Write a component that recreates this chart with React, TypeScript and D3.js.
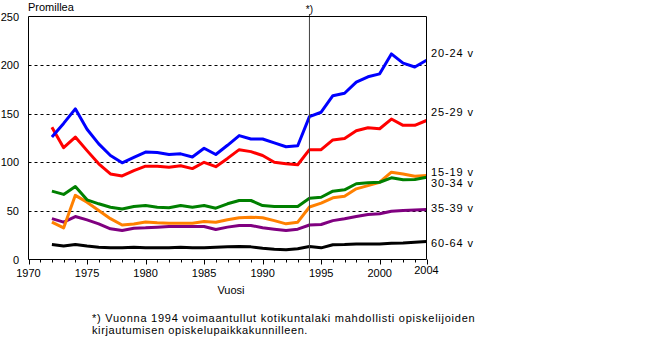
import React from "react";
import * as d3 from "d3";

const years = d3.range(1972, 2005);

const s2024 = [126, 140, 155, 134, 119, 107, 99.5, 105, 110.5, 110, 108, 108.7, 105.5, 114.5, 108, 117.5, 127.5, 124, 124, 120, 116, 117, 147, 151.5, 168.5, 171, 182.5, 188, 191, 211.5, 202, 198, 205];
const s2529 = [136, 115, 126, 112, 98.5, 88, 86, 91.5, 96, 96, 95, 96.5, 93.5, 100, 95.5, 104, 113, 111, 107, 100, 98.5, 97.5, 113, 113, 123, 124.5, 132.5, 135.5, 134.5, 144.5, 138, 138, 143];
const s1519 = [38.5, 32.5, 66, 59, 50.5, 42, 35.5, 36.5, 38.5, 37.7, 37.4, 37.4, 37.4, 39, 38.4, 40.8, 42.9, 43.5, 42.9, 40, 36.7, 38.4, 54, 58, 63.5, 65, 72.7, 76, 79.5, 89.8, 88, 85.7, 86.4];
const s3034 = [70.3, 67, 75, 61.4, 57.3, 53.8, 52, 54.5, 55.5, 53.8, 53.2, 55.5, 53.8, 55.5, 52.8, 57.3, 60.7, 60.7, 55.5, 54.5, 54.5, 54.5, 63, 64, 70.3, 71.7, 77.9, 78.9, 79.5, 84, 82, 82.3, 84.7];
const s3539 = [42, 38.4, 44.2, 40.8, 36.7, 31.6, 29.8, 32.2, 32.6, 33.3, 34, 34, 34, 34, 30.9, 33.3, 35, 35, 32.6, 31.2, 29.8, 31.2, 35.5, 36, 40, 41.9, 44.2, 46.3, 47, 49.7, 50.4, 51, 51.4];
const s6064 = [15.4, 13.8, 15.4, 13.8, 12.7, 12, 12, 12.5, 12, 12, 12, 12.5, 12, 12, 12.5, 13, 13.4, 13, 11.5, 10.5, 10, 11, 13.4, 12, 15.2, 15.4, 16, 16, 16, 16.8, 17, 17.7, 18.5];

const seriesNames = ["20-24 v", "25-29 v", "15-19 v", "30-34 v", "35-39 v", "60-64 v"];
const seriesData = [s2024, s2529, s1519, s3034, s3539, s6064];
const seriesColors = ["#0000ff", "#ff0000", "#ff8000", "#008000", "#800080", "#000000"];
const labelYOffsets = [53, 112, 172, 183, 208, 243];

const yTicks = [0, 50, 100, 150, 200, 250];
const gridTicks = [50, 100, 150, 200];
const xMajor = [1970, 1975, 1980, 1985, 1990, 1995, 2000, 2004];
const xMinor = d3.range(1970, 2005);

const FONT = "'Liberation Sans', Arial, sans-serif";

export default function App() {
  const W = 658, H = 361;
  const x0 = 28.5, x1 = 426.5, yTop = 16.5, yBot = 259.5;
  const x = d3.scaleLinear().domain([1970, 2004]).range([x0, x1]);
  const y = d3.scaleLinear().domain([0, 250]).range([yBot, yTop]);
  const line = d3.line<number>().x((_, i) => x(years[i])).y((d) => y(d));
  const order = [5, 4, 2, 3, 1, 0];
  return (
    <svg width={W} height={H} style={{ position: "absolute", left: 0, top: 0, background: "#fff" }} fontFamily={FONT}>
      <rect x={0} y={0} width={W} height={H} fill="#fff" />
      {gridTicks.map((t) => (
        <line key={t} x1={x0} x2={x1} y1={Math.round(y(t)) + 0.5} y2={Math.round(y(t)) + 0.5} stroke="#000" strokeWidth={1} strokeDasharray="3,3" />
      ))}
      {order.map((k) => (
        <path key={k} d={line(seriesData[k]) || ""} fill="none" stroke={seriesColors[k]} strokeWidth={3} strokeLinejoin="round" />
      ))}
      <line x1={x(1994)} x2={x(1994)} y1={14} y2={yBot} stroke="#404040" strokeWidth={1} />
      <text x={x(1994)} y={13} fontSize={10} textAnchor="middle">*)</text>
      <path d={`M${x0},${yBot}V${yTop}H${x1}V${yBot}H${x0}`} fill="none" stroke="#000" strokeWidth={1} />
      {xMinor.map((t) => (
        <line key={t} x1={Math.round(x(t)) + 0.5} x2={Math.round(x(t)) + 0.5} y1={yBot} y2={yBot + (t % 5 === 0 || t === 2004 ? 5 : 3)} stroke="#000" strokeWidth={1} />
      ))}
      {xMajor.map((t) => (
        <text key={t} x={x(t)} y={t === 2004 ? 274 : 277} fontSize={11} textAnchor="middle">{t}</text>
      ))}
      {yTicks.map((t) => (
        <text key={t} x={19} y={y(t) + 4} fontSize={11} textAnchor="end">{t}</text>
      ))}
      <text x={28} y={11} fontSize={11}>Promillea</text>
      <text x={231} y={294} fontSize={11} textAnchor="middle">Vuosi</text>
      <text x={92} y={322} fontSize={11} letterSpacing={0.75}>*) Vuonna 1994 voimaantullut kotikuntalaki mahdollisti opiskelijoiden</text>
      <text x={92} y={334} fontSize={11} letterSpacing={0.6}>kirjautumisen opiskelupaikkakunnilleen.</text>
      {seriesNames.map((n, i) => (
        <text key={n} x={431} y={labelYOffsets[i] + 4} fontSize={11} letterSpacing={0.9}>{n}</text>
      ))}
    </svg>
  );
}
